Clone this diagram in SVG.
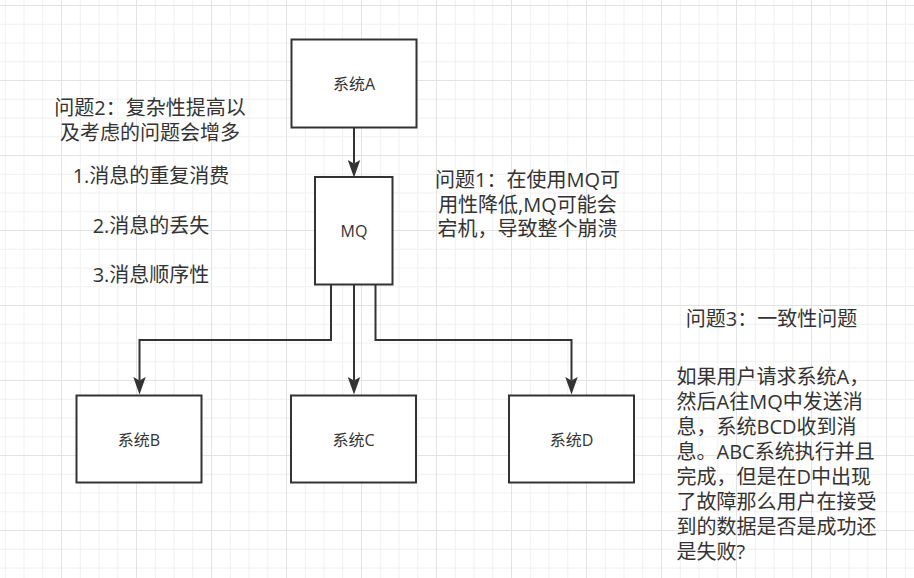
<svg xmlns="http://www.w3.org/2000/svg" width="914" height="578" viewBox="0 0 914 578">
  <defs>
    <!-- background grid: minor lines every 18.75px, major every 75px -->
    <pattern id="grid" x="61" y="5" width="75" height="75" patternUnits="userSpaceOnUse">
      <path d="M19.25,0V75M38,0V75M56.75,0V75M0,19.25H75M0,38H75M0,56.75H75" stroke="#f0f0f0" stroke-width="1" fill="none"/>
      <path d="M0.5,0V75M0,0.5H75" stroke="#e3e3e3" stroke-width="1" fill="none"/>
    </pattern>
    <marker id="arrow" markerUnits="userSpaceOnUse" markerWidth="18" markerHeight="13" refX="3.5" refY="6.25" orient="auto" overflow="visible">
      <path d="M0,0 L17.5,6.25 L0,12.5 L3.5,6.25 Z" fill="#333"/>
    </marker>
    <style>
      .box { fill: #ffffff; stroke: #333333; stroke-width: 2; }
      .edge { fill: none; stroke: #333333; stroke-width: 2; marker-end: url(#arrow); }
      text { font-family: "Open Sans", "Noto Sans CJK SC", "Noto Sans", sans-serif; fill: #333333; }
      .label { font-size: 16px; text-anchor: middle; }
      .note { font-size: 20px; }
      .mid { text-anchor: middle; }
    </style>
  </defs>

  <rect x="0" y="0" width="914" height="578" fill="#ffffff"/>
  <rect x="0" y="0" width="914" height="578" fill="url(#grid)"/>

  <!-- connectors -->
  <g id="connectors">
    <path class="edge" d="M354,128 V163.5"/>
    <path class="edge" d="M331,285 V340 H139.5 V380.5"/>
    <path class="edge" d="M354,285 V380.5"/>
    <path class="edge" d="M375.5,285 V340 H571.5 V380.5"/>
  </g>

  <!-- nodes -->
  <g id="system-a">
    <rect class="box" x="291.5" y="39.5" width="125" height="88"/>
    <text class="label" x="354" y="89.5">系统A</text>
  </g>
  <g id="mq">
    <rect class="box" x="315" y="177" width="77.5" height="107.5"/>
    <text class="label" x="354" y="237">MQ</text>
  </g>
  <g id="system-b">
    <rect class="box" x="76.5" y="395.5" width="125" height="87"/>
    <text class="label" x="139" y="446">系统B</text>
  </g>
  <g id="system-c">
    <rect class="box" x="291" y="395.5" width="125" height="87"/>
    <text class="label" x="353.5" y="446">系统C</text>
  </g>
  <g id="system-d">
    <rect class="box" x="509" y="395.5" width="125" height="87"/>
    <text class="label" x="571.5" y="446">系统D</text>
  </g>

  <!-- free text notes -->
  <g id="note-problem2">
    <text class="note mid" x="150" y="115">问题2：复杂性提高以</text>
    <text class="note mid" x="150" y="140">及考虑的问题会增多</text>
    <text class="note mid" x="151" y="183">1.消息的重复消费</text>
    <text class="note mid" x="151" y="233">2.消息的丢失</text>
    <text class="note mid" x="151" y="281.5">3.消息顺序性</text>
  </g>
  <g id="note-problem1">
    <text class="note mid" x="527.5" y="187">问题1：在使用MQ可</text>
    <text class="note mid" x="527.5" y="211.5">用性降低,MQ可能会</text>
    <text class="note mid" x="527.5" y="236">宕机，导致整个崩溃</text>
  </g>
  <g id="note-problem3">
    <text class="note mid" x="771.5" y="326">问题3：一致性问题</text>
    <text class="note" x="676.5" y="383.5">如果用户请求系统A，</text>
    <text class="note" x="676.5" y="408.5">然后A往MQ中发送消</text>
    <text class="note" x="676.5" y="433.5">息，系统BCD收到消</text>
    <text class="note" x="676.5" y="458.5">息。ABC系统执行并且</text>
    <text class="note" x="676.5" y="483.5">完成，但是在D中出现</text>
    <text class="note" x="676.5" y="508.5">了故障那么用户在接受</text>
    <text class="note" x="676.5" y="533.5">到的数据是否是成功还</text>
    <text class="note" x="676.5" y="558.5">是失败?</text>
  </g>
</svg>
